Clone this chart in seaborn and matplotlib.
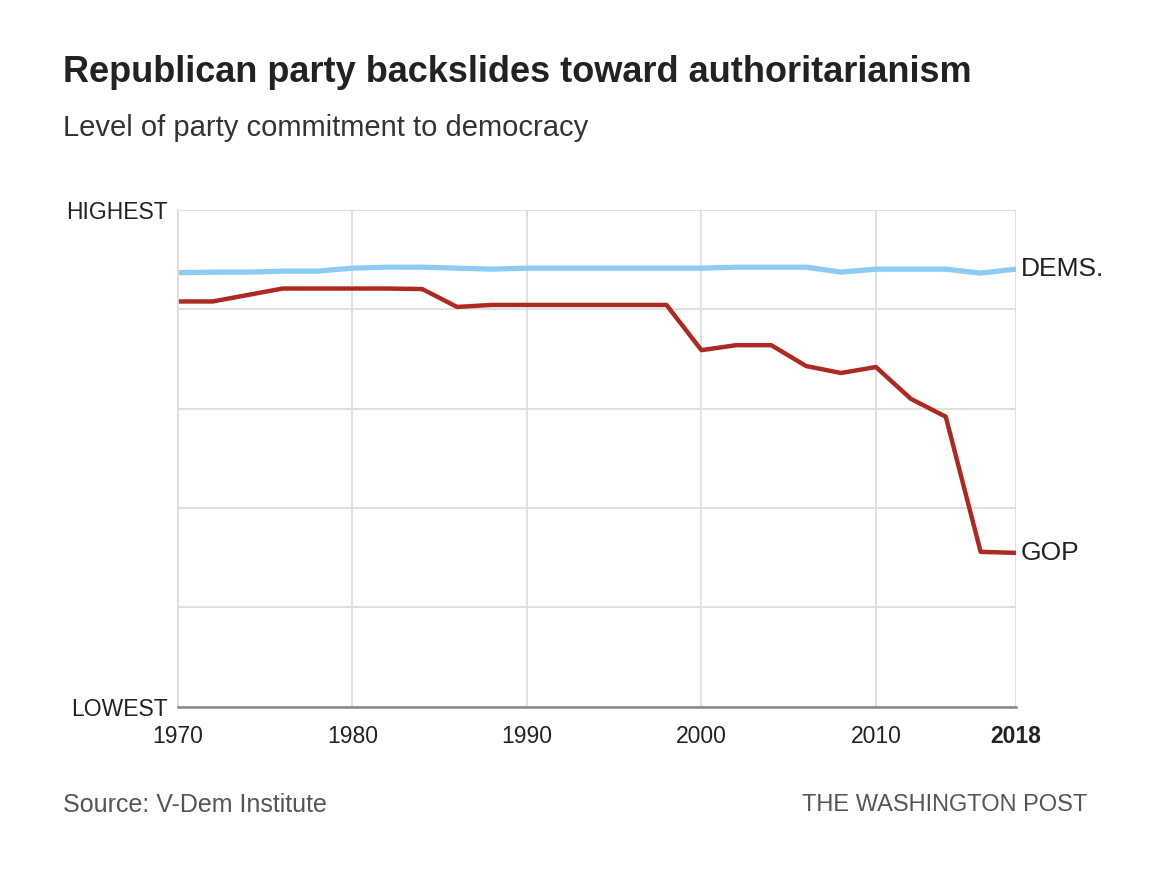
import pandas as pd
import matplotlib
import matplotlib.pyplot as plt
import seaborn as sns

matplotlib.use('Agg')

# Data (0 = lowest, 100 = highest)
years = list(range(1970, 2019, 2))
dems = [87.4, 87.5, 87.5, 87.7, 87.7, 88.3, 88.5, 88.5, 88.3, 88.1,
        88.3, 88.3, 88.3, 88.3, 88.3, 88.3, 88.5, 88.5, 88.5, 87.5,
        88.1, 88.1, 88.1, 87.3, 88.1]
gop = [81.6, 81.6, 82.9, 84.2, 84.2, 84.2, 84.2, 84.1, 80.5, 80.9,
       80.9, 80.9, 80.9, 80.9, 80.9, 71.8, 72.8, 72.8, 68.6, 67.2,
       68.4, 62.0, 58.4, 31.2, 31.0]
x_ticks = [1970, 1980, 1990, 2000, 2010, 2018]
y_ticks = [0, 20, 40, 60, 80, 100]
y_labels = ['LOWEST', '', '', '', '', 'HIGHEST']

party_colors = {'DEMS.': '#8dcbf5', 'GOP': '#ad2a20'}

data = pd.DataFrame({
    'year': years * 2,
    'value': dems + gop,
    'party': ['DEMS.'] * len(years) + ['GOP'] * len(years),
})

sns.set_style('white')
plt.rcParams['font.family'] = ['Liberation Sans', 'DejaVu Sans']

fig = plt.figure(figsize=(11.7, 8.77), dpi=100)
ax = fig.add_axes([0.152, 0.194, 0.716, 0.5665])

sns.lineplot(data=data, x='year', y='value', hue='party', palette=party_colors,
             linewidth=3.4, legend=False, ax=ax)
ax.lines[0].set_linewidth(3.8)
ax.lines[1].set_linewidth(3.2)

ax.set_xlim(1970, 2018)
ax.set_ylim(0, 100)
ax.set_xticks(x_ticks)
ax.set_xticklabels([str(t) for t in x_ticks])
ax.set_yticks(y_ticks)
ax.set_yticklabels(y_labels)
ax.set_xlabel('')
ax.set_ylabel('')
ax.tick_params(axis='x', length=0, pad=13, labelsize=16.5, labelcolor='#222222')
ax.tick_params(axis='y', length=0, pad=7, labelsize=16.5, labelcolor='#222222')
ax.get_xticklabels()[-1].set_fontweight('bold')

ax.grid(True, color='#dddddd', linewidth=1.3)
ax.set_axisbelow(True)
for side in ['top', 'right']:
    ax.spines[side].set_visible(False)
ax.spines['left'].set_color('#dddddd')
ax.spines['left'].set_linewidth(1.3)
ax.spines['bottom'].set_color('#888888')
ax.spines['bottom'].set_linewidth(1.8)

# End labels
ax.text(2018.3, dems[-1], 'DEMS.', fontsize=19, color='#222222', va='center', ha='left')
ax.text(2018.3, gop[-1], 'GOP', fontsize=19, color='#222222', va='center', ha='left')

# Titles and footer
fig.text(63 / 1170, 1 - 73 / 877, 'Republican party backslides toward authoritarianism',
         fontsize=26, fontweight='bold', color='#222222', va='center', ha='left')
fig.text(63 / 1170, 1 - 128 / 877, 'Level of party commitment to democracy',
         fontsize=21, color='#333333', va='center', ha='left')
fig.text(63 / 1170, 1 - 805 / 877, 'Source: V-Dem Institute',
         fontsize=18, color='#555555', va='center', ha='left')
fig.text(1087 / 1170, 1 - 805 / 877, 'THE WASHINGTON POST',
         fontsize=17, color='#555555', va='center', ha='right')

plt.savefig('out.png', dpi=100)
plt.close()
